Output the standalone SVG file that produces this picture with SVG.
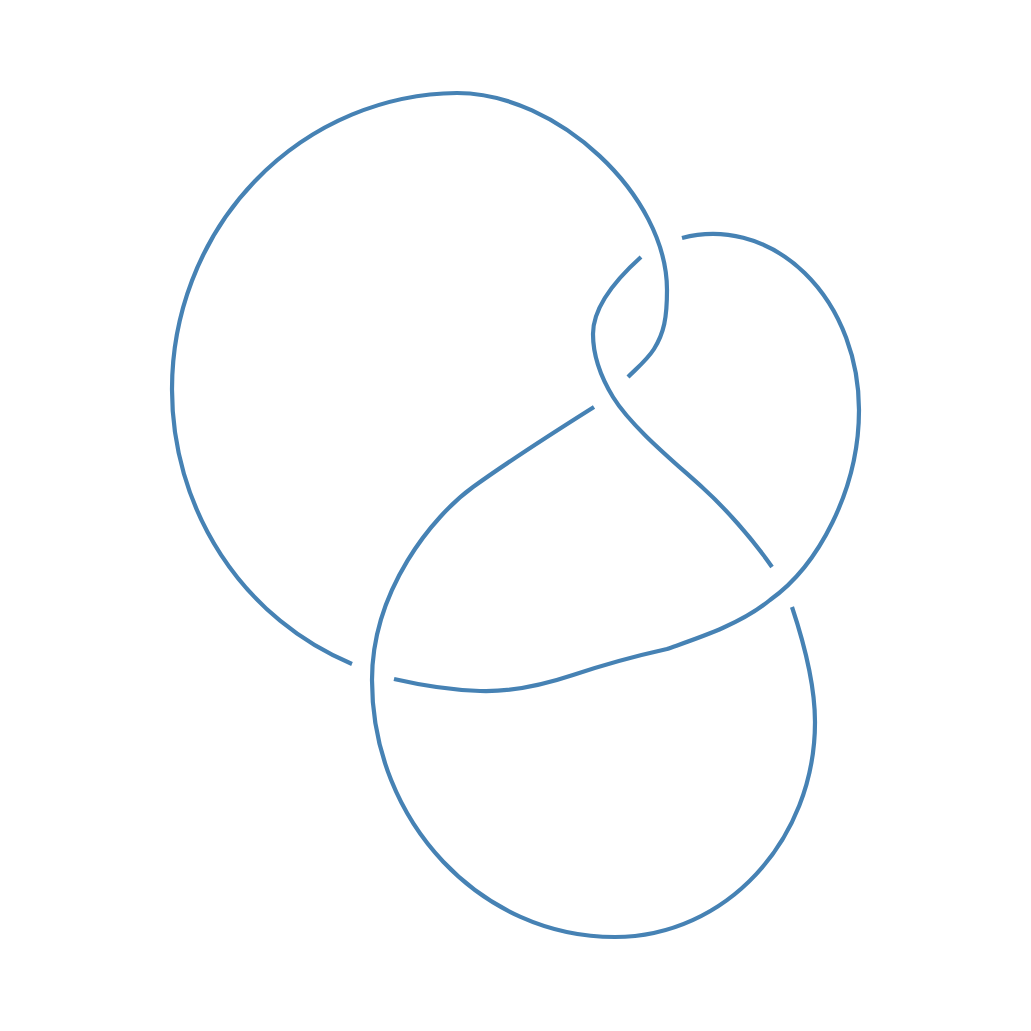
<svg xmlns="http://www.w3.org/2000/svg" width="1031" height="1031" viewBox="0 0 1031 1031">
<style>
.strand{fill:none;stroke:#4682B4;stroke-width:4.2;stroke-linecap:butt;stroke-linejoin:round}
</style>
<rect width="1031" height="1031" fill="#ffffff"/>
<g id="knot">
<path id="arc1" class="strand" d="M352,664 A288,296 0 0 1 172,389 A288,296 0 0 1 457,93 C557,93 667,195 667,290 C667,318 664,333 654,349 C647,360 637,368 628,377"/>
<path id="arc2" class="strand" d="M594,407 C567,424 505,464 473,487 C433,516 372,590 372,680 C372,822 481,937 615,937 C725,937 815,841 815,722 C815,682 803,640 792,607"/>
<path id="arc3" class="strand" d="M772,567 C752,538 724,507 703,488 C678,465 632,428 613,397 C602,379 593,356 593,334 C593,310 612,283 641,257"/>
<path id="arc4" class="strand" d="M682,238 A146,176 0 0 1 859,410 C859,490 818,566 770,600 C740,625 695,639 667,649 C640,655 600,666 573,675 C540,686 510,692 480,691 C450,690 420,685 394,679"/>
</g>
</svg>
